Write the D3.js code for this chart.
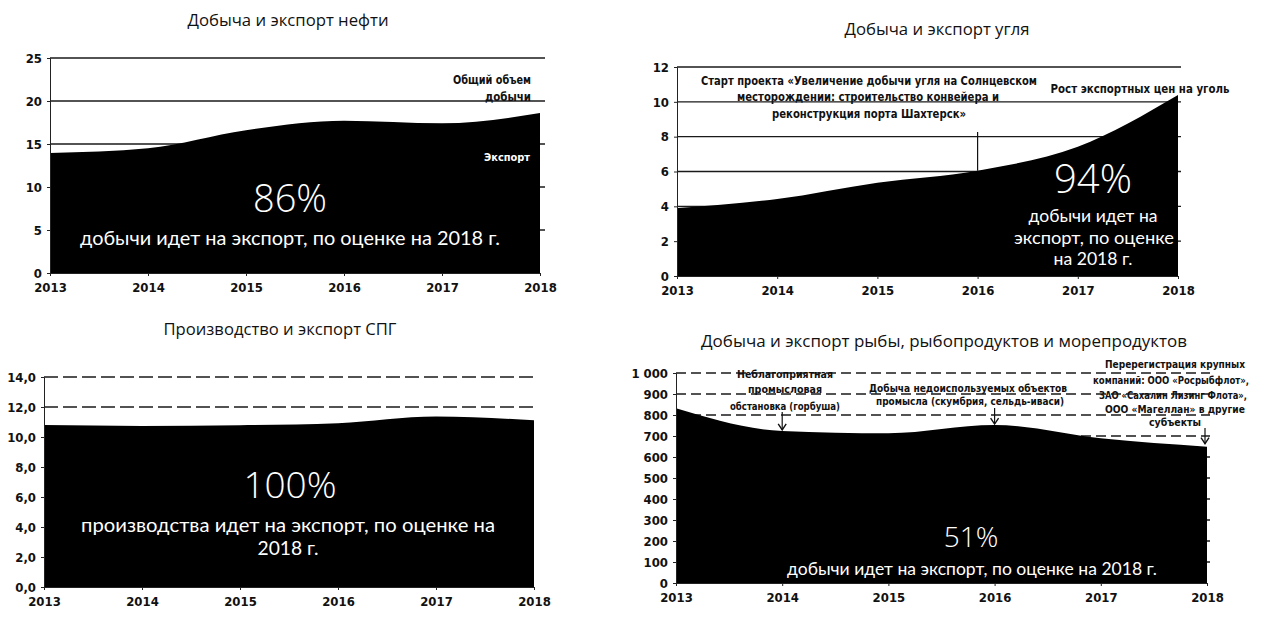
<!DOCTYPE html>
<html>
<head>
<meta charset="utf-8">
<script src="https://cdn.jsdelivr.net/npm/d3@7"></script>
<style>
  html, body { margin: 0; padding: 0; background: #fff; }
  svg { display: block; }
</style>
</head>
<body>
<svg id="chart" width="1273" height="617"></svg>
<script>
// Years on the horizontal axis
const years = [2013, 2014, 2015, 2016, 2017, 2018];

// Export volumes by year
const oilExport  = [13.95, 14.5, 16.6, 17.7, 17.4, 18.6];
const coalExport = [3.9, 4.42, 5.36, 6.05, 7.42, 10.39];
const lngExport  = [10.8, 10.74, 10.79, 10.92, 11.36, 11.12];
const fishExport = [832, 724, 713, 752, 689, 649];

// Vertical axis ticks
const oilTicks  = [0, 5, 10, 15, 20, 25];
const coalTicks = [0, 2, 4, 6, 8, 10, 12];
const lngTicks  = [0, 2, 4, 6, 8, 10, 12, 14];
const fishTicks = [0, 100, 200, 300, 400, 500, 600, 700, 800, 900, 1000];

// Titles and export shares
const titles = [
  "Добыча и экспорт нефти",
  "Добыча и экспорт угля",
  "Производство и экспорт СПГ",
  "Добыча и экспорт рыбы, рыбопродуктов и морепродуктов"
];
const shares = ["86%", "94%", "100%", "51%"];

const ru = d3.formatLocale({decimal: ",", thousands: "\u00a0", grouping: [3], currency: ["", " ₽"]});

const svg = d3.select("#chart");
const SANS = "'Open Sans', 'Noto Sans', sans-serif";
const BODY = "Lato, 'Open Sans', sans-serif";
const NARROW = "'Liberation Sans Narrow', 'DejaVu Sans Condensed', 'Liberation Sans', sans-serif";

function label(g, x, y, str, o = {}) {
  const t = g.append("text")
    .attr("x", x).attr("y", y)
    .attr("text-anchor", o.anchor || "middle")
    .attr("font-family", o.family || SANS)
    .attr("font-size", o.size || 12)
    .attr("font-weight", o.weight || 400)
    .attr("fill", o.fill || "#111")
    .text(str);
  if (o.len) t.attr("textLength", o.len).attr("lengthAdjust", "spacingAndGlyphs");
  return t;
}

// Draws one area panel: grid, filled export area, axes
function panel(cfg) {
  const g = svg.append("g");
  const x = d3.scalePoint().domain(years).range([cfg.x0, cfg.x1]);
  const y = d3.scaleLinear().domain([0, d3.max(cfg.ticks)]).range([cfg.yBot, cfg.yTop]);

  // grid behind the area
  g.append("g").selectAll("line").data(cfg.ticks.filter(d => d > 0)).join("line")
    .attr("x1", cfg.x0).attr("x2", cfg.gridEnd)
    .attr("y1", d => y(d)).attr("y2", d => y(d))
    .attr("stroke", "#1a1a1a").attr("stroke-width", 1.4)
    .attr("stroke-dasharray", cfg.dash || null);

  const area = d3.area()
    .x((d, i) => x(years[i]))
    .y0(y(0)).y1(d => y(d))
    .curve(d3.curveMonotoneX);
  g.append("path").datum(cfg.values).attr("d", area).attr("fill", "#000");

  // y axis
  const ya = d3.axisLeft(y).tickValues(cfg.ticks).tickSize(3).tickPadding(5).tickFormat(cfg.fmt);
  const yg = g.append("g").attr("transform", `translate(${cfg.x0},0)`).call(ya);
  yg.select(".domain").attr("stroke", "#222").attr("stroke-width", 1);
  yg.selectAll(".tick line").attr("stroke", "#222");
  yg.selectAll(".tick text").attr("font-family", NARROW).attr("font-weight", 700)
    .attr("font-size", 13).attr("fill", "#111");

  // x axis
  const xa = d3.axisBottom(x).tickSize(3).tickPadding(7);
  const xg = g.append("g").attr("transform", `translate(0,${cfg.yBot})`).call(xa);
  xg.select(".domain").attr("stroke", "#222").attr("stroke-width", 1);
  xg.selectAll(".tick line").attr("stroke", "#222");
  xg.selectAll(".tick text").attr("font-family", NARROW).attr("font-weight", 700)
    .attr("font-size", 13).attr("fill", "#111");

  return {g, x, y};
}

function arrowDown(g, x, y1, y2) {
  g.append("line").attr("x1", x).attr("x2", x).attr("y1", y1).attr("y2", y2)
    .attr("stroke", "#111").attr("stroke-width", 1.2);
  g.append("path").attr("d", `M${x - 4},${y2 - 6}L${x},${y2}L${x + 4},${y2 - 6}`)
    .attr("fill", "none").attr("stroke", "#111").attr("stroke-width", 1.4);
}

// ---------- Oil ----------
{
  const p = panel({values: oilExport, ticks: oilTicks, x0: 50, x1: 540, yTop: 58, yBot: 273,
                   gridEnd: 545, fmt: d3.format("d")});
  label(svg, 288, 26, titles[0], {size: 16, len: 201});
  label(svg, 531, 84, "Общий объем", {size: 12, weight: 700, anchor: "end", family: NARROW, len: 78});
  label(svg, 531, 101, "добычи", {size: 12, weight: 700, anchor: "end", family: NARROW, len: 46});
  label(svg, 530, 161, "Экспорт", {size: 11, weight: 700, anchor: "end", family: NARROW, fill: "#fff", len: 46});
  label(svg, 290, 212, shares[0], {size: 38, weight: 300, fill: "#fff"});
  label(svg, 290, 245, "добычи идет на экспорт, по оценке на 2018 г.", {size: 19, family: BODY, fill: "#fff", len: 420});
}

// ---------- Coal ----------
{
  const p = panel({values: coalExport, ticks: coalTicks, x0: 677, x1: 1178, yTop: 67, yBot: 276,
                   gridEnd: 1181, fmt: d3.format("d")});
  label(svg, 937, 35, titles[1], {size: 16, len: 185});
  const n = {size: 12.5, weight: 700, family: NARROW};
  label(svg, 869, 85, "Старт проекта «Увеличение добычи угля на Солнцевском", {...n, len: 336});
  label(svg, 868, 101, "месторождении: строительство конвейера и", {...n, len: 262});
  label(svg, 869, 118, "реконструкция порта Шахтерск»", {...n, len: 194});
  label(svg, 1140, 93, "Рост экспортных цен на уголь", {...n, len: 179});
  const x16 = p.x(2016);
  svg.append("line").attr("x1", x16).attr("x2", x16).attr("y1", 132).attr("y2", p.y(coalExport[3]))
    .attr("stroke", "#111").attr("stroke-width", 1.2);
  label(svg, 1093, 193, shares[1], {size: 40, weight: 300, fill: "#fff"});
  label(svg, 1093, 222, "добычи идет на", {size: 18, family: BODY, fill: "#fff", len: 129});
  label(svg, 1094, 244, "экспорт, по оценке", {size: 18, family: BODY, fill: "#fff", len: 160});
  label(svg, 1093, 265, "на 2018 г.", {size: 18, family: BODY, fill: "#fff", len: 79});
}

// ---------- LNG ----------
{
  const p = panel({values: lngExport, ticks: lngTicks, x0: 44, x1: 534, yTop: 377, yBot: 587,
                   gridEnd: 537, dash: "14,5", fmt: ru.format(".1f")});
  label(svg, 280, 335, titles[2], {size: 16, len: 233});
  label(svg, 290, 498, shares[2], {size: 37, weight: 300, fill: "#fff"});
  label(svg, 288, 532, "производства идет на экспорт, по оценке на", {size: 19, family: BODY, fill: "#fff", len: 414});
  label(svg, 288, 555, "2018 г.", {size: 19, family: BODY, fill: "#fff", len: 61});
}

// ---------- Fish ----------
{
  const p = panel({values: fishExport, ticks: fishTicks, x0: 676, x1: 1207, yTop: 373, yBot: 583,
                   gridEnd: 1210, dash: "10,5", fmt: ru.format(",d")});
  label(svg, 944, 347, titles[3], {size: 16, len: 486});
  const n = {size: 11, weight: 700, family: NARROW};
  label(svg, 785, 378, "Неблагоприятная", {...n, len: 96});
  label(svg, 785, 393, "промысловая", {...n, len: 74});
  label(svg, 785, 410, "обстановка (горбуша)", {...n, len: 110});
  arrowDown(svg, p.x(2014), 412, p.y(fishExport[1]) - 1);
  label(svg, 968, 392, "Добыча недоиспользуемых объектов", {...n, len: 198});
  label(svg, 970, 405, "промысла (скумбрия, сельдь-иваси)", {...n, len: 188});
  arrowDown(svg, p.x(2016), 408, p.y(fishExport[3]) - 1);
  label(svg, 1175, 368, "Перерегистрация крупных", {...n, len: 140});
  label(svg, 1171, 384, "компаний: ООО «Росрыбфлот»,", {...n, len: 156});
  label(svg, 1173, 399, "ЗАО «Сахалин Лизинг Флота»,", {...n, len: 148});
  label(svg, 1175, 413, "ООО «Магеллан» в другие", {...n, len: 140});
  label(svg, 1175, 426, "субъекты", {...n, len: 52});
  arrowDown(svg, p.x(2018) - 2, 428, p.y(fishExport[5]) - 3);
  label(svg, 971, 547, shares[3], {size: 28, weight: 300, fill: "#fff"});
  label(svg, 972, 575, "добычи идет на экспорт, по оценке на 2018 г.", {size: 16.5, family: BODY, fill: "#fff", len: 370});
}
</script>
</body>
</html>
